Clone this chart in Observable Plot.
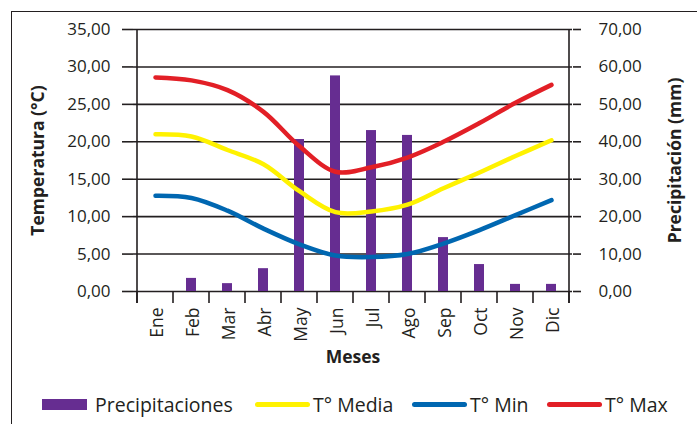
<!DOCTYPE html>
<html><head><meta charset="utf-8">
<script src="https://cdn.jsdelivr.net/npm/d3@7"></script>
<script src="https://cdn.jsdelivr.net/npm/@observablehq/plot@0.6"></script>
<style>
body{margin:0;background:#fff;width:697px;height:424px;overflow:hidden;position:relative;font-family:"Open Sans",sans-serif;color:#231f20;}
#frame{position:absolute;left:11px;top:11px;width:720px;height:440px;border:1.5px solid #231f20;pointer-events:none;}
#legend{position:relative;height:39px;font-size:19.5px;}
.lg{position:absolute;top:0;height:39px;display:flex;align-items:center;white-space:nowrap;}
.sw-rect{display:inline-block;width:45px;height:11px;margin-right:8px;}
.sw-line{display:inline-block;width:55px;height:5px;border-radius:3px;margin-right:3px;}
</style></head><body>
<div id="chart"></div>
<div id="legend"></div>
<div id="frame"></div>
<script>
const months = ["Ene","Feb","Mar","Abr","May","Jun","Jul","Ago","Sep","Oct","Nov","Dic"];
const precip = [0, 3.5, 2.1, 6.1, 40.6, 57.6, 43.0, 41.7, 14.4, 7.2, 1.9, 1.9];
const tMedia = [21.0, 20.7, 18.9, 17.0, 13.4, 10.6, 10.7, 11.6, 13.8, 15.9, 18.1, 20.2];
const tMin = [12.8, 12.5, 10.8, 8.4, 6.3, 4.8, 4.6, 5.0, 6.4, 8.2, 10.2, 12.2];
const tMax = [28.6, 28.2, 26.9, 24.0, 19.4, 16.0, 16.6, 17.9, 20.0, 22.5, 25.2, 27.6];
const tempTicks = [0, 5, 10, 15, 20, 25, 30, 35];
const precipTicks = [0, 10, 20, 30, 40, 50, 60, 70];
const seriesNames = ["Precipitaciones", "T° Media", "T° Min", "T° Max"];
const colors = ["#662d91", "#fff200", "#0067b1", "#e21f26"];

const factor = 35 / 70; // mm -> °C axis
const fmt = v => d3.format(".2f")(v).replace(".", ",");
const data = months.map((m, i) => ({mes: m, precip: precip[i], media: tMedia[i], min: tMin[i], max: tMax[i]}));

const ink = "#231f20";
function frameLines(index, scales, values, dim) {
  const x = scales.x, y = scales.y;
  const step = x.step ? x.step() : x.bandwidth();
  const y0 = y(0), yTop = y(35);
  const g = d3.create("svg:g").attr("stroke", ink).attr("stroke-width", 1.6);
  const xs = months.map(m => x(m)).concat([x(months[months.length - 1]) + step]);
  xs.forEach(xx => g.append("line").attr("x1", xx).attr("x2", xx).attr("y1", y0).attr("y2", y0 + 12));
  [xs[0], xs[xs.length - 1]].forEach(xx => g.append("line").attr("x1", xx).attr("x2", xx).attr("y1", yTop).attr("y2", y0 + 12));
  return g.node();
}

const plot = Plot.plot({
  width: 697, height: 385,
  marginLeft: 133, marginRight: 125, marginTop: 29, marginBottom: 94,
  style: {fontFamily: "'Open Sans', sans-serif", fontSize: "17px", color: ink, background: "transparent"},
  x: {domain: months, padding: 0, axis: null},
  y: {domain: [0, 35], axis: null},
  marks: [
    Plot.ruleY(tempTicks, {stroke: ink, strokeWidth: 1.6}),
    Plot.axisY({anchor: "left", ticks: tempTicks, tickSize: 11, tickPadding: 12, tickFormat: fmt, label: null, stroke: ink, strokeWidth: 1.6, fontSize: 17}),
    Plot.axisY({anchor: "right", ticks: precipTicks.map(v => v * factor), tickSize: 8, tickPadding: 18, tickFormat: d => fmt(d / factor), label: null, stroke: ink, strokeWidth: 1.6, fontSize: 17}),
    frameLines,
    Plot.barY(data, {x: "mes", y: d => d.precip * factor, fill: colors[0], insetLeft: 13, insetRight: 13}),
    Plot.line(data, {x: "mes", y: "media", stroke: colors[1], strokeWidth: 4.5, curve: "catmull-rom", strokeLinecap: "round"}),
    Plot.line(data, {x: "mes", y: "min", stroke: colors[2], strokeWidth: 4.5, curve: "catmull-rom", strokeLinecap: "round"}),
    Plot.line(data, {x: "mes", y: "max", stroke: colors[3], strokeWidth: 4.5, curve: "catmull-rom", strokeLinecap: "round"}),
    Plot.text(months, {x: d => d, text: d => d, frameAnchor: "bottom", rotate: -90, textAnchor: "end", lineAnchor: "middle", dy: 16, dx: 2, fontSize: 17.5, fill: ink}),
    Plot.text(["Meses"], {text: d => d, frameAnchor: "bottom", textAnchor: "middle", dy: 71, fontWeight: "bold", fontSize: 17.5, fill: ink}),
    Plot.text(["Temperatura (°C)"], {text: d => d, frameAnchor: "left", textAnchor: "middle", dx: -95, rotate: -90, fontWeight: "bold", fontSize: 17.5, fill: ink}),
    Plot.text(["Precipitación (mm)"], {text: d => d, frameAnchor: "right", textAnchor: "middle", dx: 103, rotate: -90, fontWeight: "bold", fontSize: 17.5, fill: ink})
  ]
});
document.getElementById("chart").appendChild(plot);

const legend = document.getElementById("legend");
const lefts = [42, 255, 412, 547];
seriesNames.forEach((name, i) => {
  const item = document.createElement("div");
  item.className = "lg";
  item.style.left = lefts[i] + "px";
  const sw = document.createElement("span");
  sw.className = i === 0 ? "sw-rect" : "sw-line";
  sw.style.background = colors[i];
  item.appendChild(sw);
  item.appendChild(document.createTextNode(name));
  legend.appendChild(item);
});
</script>
</body></html>
